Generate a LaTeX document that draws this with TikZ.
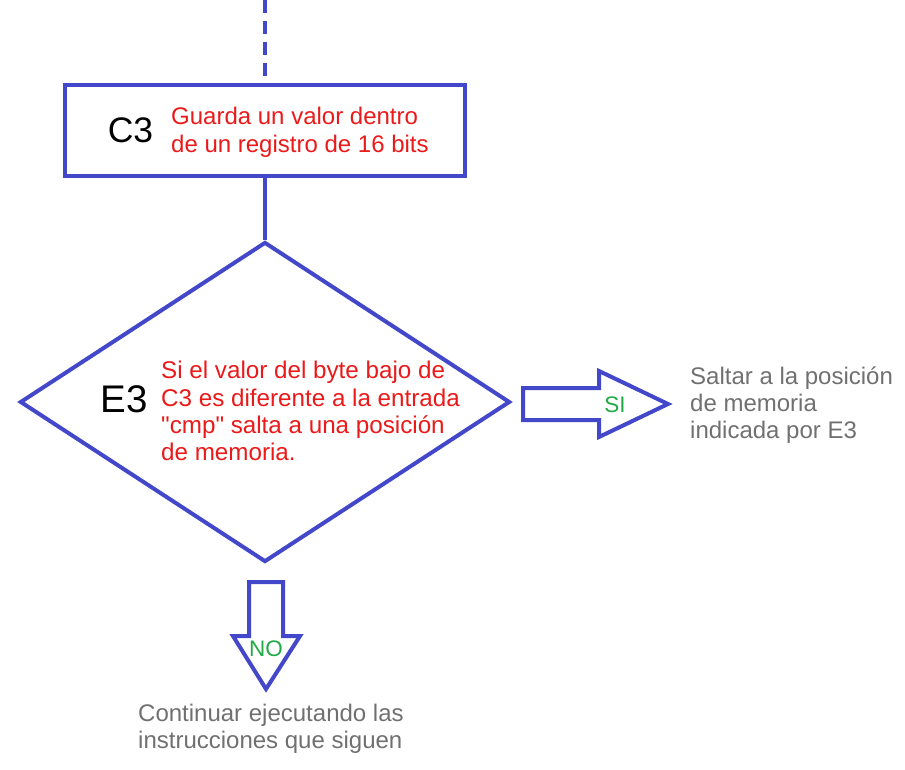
\documentclass[tikz,border=0pt]{standalone}
\usepackage{fontspec}
\setmainfont{Liberation Sans}
\usetikzlibrary{shapes.geometric}
\definecolor{flowblue}{RGB}{67,71,201}
\definecolor{notered}{RGB}{235,25,25}
\definecolor{answergreen}{RGB}{34,170,70}
\definecolor{resultgray}{RGB}{112,112,112}
\tikzset{
    flowline/.style = {
        draw=flowblue,
        line width=4pt
    },
    procbox/.style = {
        flowline,
        rectangle,
        minimum width=400pt,
        minimum height=91pt,
        inner sep=0pt
    },
    decision/.style = {
        flowline,
        diamond,
        minimum width=490pt,
        minimum height=320pt,
        inner sep=0pt
    },
    opcode/.style = {
        inner sep=0pt,
        text=black
    },
    note/.style = {
        inner sep=0pt,
        align=left,
        text=notered,
        font=\fontsize{24.2}{27.2}\selectfont
    },
    answer/.style = {
        inner sep=0pt,
        text=answergreen,
        font=\fontsize{22.5}{24}\selectfont
    },
    result/.style = {
        inner sep=0pt,
        align=left,
        text=resultgray,
        font=\fontsize{24}{27}\selectfont
    }
}

\begin{document}
\begin{tikzpicture}[x=1pt,y=-1pt]
    \useasboundingbox (0,0) rectangle (905,770);
    \coordinate (entry) at (265,0);
    \node [procbox] (c3box) at (265,131) {};
    \node [decision] (e3dia) at (265,402) {};
    \draw [flowline, dash pattern=on 13pt off 8pt] (entry) -- (c3box.north);
    \draw [flowline] (c3box.south) -- (e3dia.north);
    \node [opcode, font=\fontsize{35.5}{38}\selectfont] (c3) at (130.5,130) {C3};
    \node [note, anchor=west, font=\fontsize{24}{28}\selectfont] (c3note) at (171,132) {Guarda un valor dentro\\de un registro de 16 bits};
    \node [opcode, font=\fontsize{38.5}{40}\selectfont] (e3) at (124.5,399) {E3};
    \node [note, anchor=west] (e3note) at (161,411) {Si el valor del byte bajo de\\C3 es diferente a la entrada\\\textquotedbl cmp\textquotedbl{} salta a una posición\\de memoria.};
    \coordinate (siarrow) at (523,404);
    \draw [flowline, line join=miter] (siarrow) ++(0,-16) -- ++(76,0) -- ++(0,-17) -- (668,404)
        -- (599,437) -- ++(0,-17) -- ++(-76,0) -- cycle;
    \node [answer] (si) at (615,405) {SI};
    \coordinate (noarrow) at (266,582);
    \draw [flowline, line join=miter] (noarrow) ++(-17,0) -- ++(0,54) -- ++(-16,0) -- (266,689)
        -- (300,636) -- ++(-17,0) -- ++(0,-54) -- cycle;
    \node [answer] (no) at (266,649) {NO};
    \node [result, anchor=west] (siresult) at (690,405) {Saltar a la posición\\de memoria\\indicada por E3};
    \node [result, anchor=west] (noresult) at (138,729) {Continuar ejecutando las\\instrucciones que siguen};
\end{tikzpicture}
\end{document}
